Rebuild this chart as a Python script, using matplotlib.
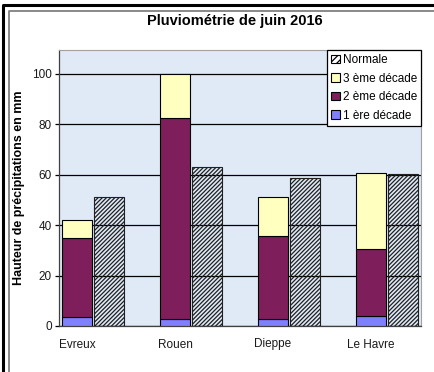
import numpy as np
import matplotlib
matplotlib.use("Agg")
import matplotlib.pyplot as plt
from matplotlib.patches import Patch
from matplotlib.lines import Line2D

plt.rcParams['font.family'] = ['Liberation Sans', 'DejaVu Sans']
plt.rcParams['hatch.linewidth'] = 0.9

# rainfall per ten-day period, June 2016 (mm)
villes = ['Evreux', 'Rouen', 'Dieppe', 'Le Havre']
decade1 = [3.7, 2.9, 2.9, 4.1]
decade2 = [31.3, 79.8, 32.8, 26.3]
decade3 = [6.9, 17.3, 15.6, 30.2]
normale = [51.3, 63.2, 58.6, 60.5]

c1 = '#8080ff'
c2 = '#7e1f5c'
c3 = '#ffffc0'

fig = plt.figure(figsize=(4.34, 3.72), dpi=100)
fig.patch.set_facecolor('white')

# chart frame (double border)
fig.add_artist(Line2D([3 / 434, 3 / 434, 1], [0, 1 - 5 / 372, 1 - 5 / 372],
                      color='black', lw=2.2, transform=fig.transFigure))
fig.add_artist(Line2D([8.5 / 434, 8.5 / 434, 1], [0, 1 - 10.5 / 372, 1 - 10.5 / 372],
                      color='#808080', lw=1.3, transform=fig.transFigure))

ax = fig.add_axes([59 / 434, 46 / 372, 362 / 434, 276 / 372])
ax.set_facecolor('#dfeaf6')

x = np.arange(len(villes))
w = 0.306
off = 0.327

d1 = np.array(decade1)
d2 = np.array(decade2)
d3 = np.array(decade3)

ax.bar(x, d1, w, color=c1, edgecolor='black', lw=0.8, zorder=3)
ax.bar(x, d2, w, bottom=d1, color=c2, edgecolor='black', lw=0.8, zorder=3)
ax.bar(x, d3, w, bottom=d1 + d2, color=c3, edgecolor='black', lw=0.8, zorder=3)
ax.bar(x + off, normale, w, facecolor='none', edgecolor='#202020', lw=0.8,
       hatch='////////', zorder=3)

ax.set_xlim(-0.184, 3.51)
ax.set_ylim(0, 109.5)
ax.set_yticks([0, 20, 40, 60, 80, 100])
ax.yaxis.grid(True, color='black', lw=0.9, zorder=0)
ax.set_axisbelow(True)
ax.set_xticks(x)
ax.set_xticklabels(villes)
ax.tick_params(axis='x', length=0, pad=9, labelsize=8.5, colors='#1a1a1a')
ax.tick_params(axis='y', length=3, width=0.9, pad=2, labelsize=8.5, colors='black',
               labelcolor='#1a1a1a')

for s in ['top', 'right']:
    ax.spines[s].set_color('#a0a0a0')
    ax.spines[s].set_linewidth(0.8)
for s in ['left', 'bottom']:
    ax.spines[s].set_color('#404040')
    ax.spines[s].set_linewidth(0.9)

fig.text(235 / 434, 1 - 21 / 372, 'Pluviométrie de juin 2016', ha='center', va='center',
         fontsize=10.5, fontweight='bold')
fig.text(19 / 434, 1 - 188 / 372, 'Hauteur de précipitations en mm', ha='center', va='center',
         rotation=90, fontsize=9, fontweight='bold')

handles = [
    Patch(facecolor='white', edgecolor='black', hatch='/////', lw=0.8, label='Normale'),
    Patch(facecolor=c3, edgecolor='black', lw=0.8, label='3 ème décade'),
    Patch(facecolor=c2, edgecolor='black', lw=0.8, label='2 ème décade'),
    Patch(facecolor=c1, edgecolor='black', lw=0.8, label='1 ère décade'),
]
leg = fig.legend(handles=handles, loc='upper right',
                 bbox_to_anchor=(421 / 434, 1 - 50 / 372), fontsize=8.5,
                 handlelength=0.75, handleheight=0.75, handletextpad=0.25,
                 labelspacing=0.55, borderpad=0.35, borderaxespad=0,
                 fancybox=False, framealpha=1, edgecolor='black')
leg.get_frame().set_linewidth(0.9)

fig.savefig('out.png', dpi=100)
